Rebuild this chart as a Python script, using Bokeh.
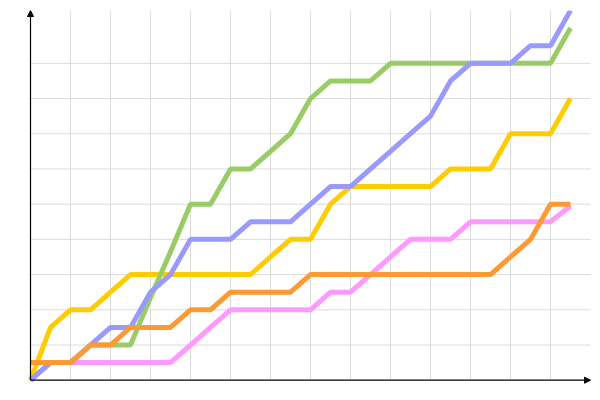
from bokeh.plotting import figure
from bokeh.models import Arrow, NormalHead, Range1d
from bokeh.embed import file_html
from bokeh.resources import INLINE

# x positions (steps)
steps = list(range(28))

# series values
yellow = [0, 3, 4, 4, 5, 6, 6, 6, 6, 6, 6, 6, 7, 8, 8, 10, 11, 11, 11, 11, 11, 12, 12, 12, 14, 14, 14, 16]
pink = [1, 1, 1, 1, 1, 1, 1, 1, 2, 3, 4, 4, 4, 4, 4, 5, 5, 6, 7, 8, 8, 8, 9, 9, 9, 9, 9, 9.9]
green = [0, 1, 1, 2, 2, 2, 4.7, 7.3, 10, 10, 12, 12, 13, 14, 16, 17, 17, 17, 18, 18, 18, 18, 18, 18, 18, 18, 18, 20]
blue = [0, 1, 1, 2, 3, 3, 5, 6, 8, 8, 8, 9, 9, 9, 10, 11, 11, 12, 13, 14, 15, 17, 18, 18, 18, 19, 19, 21]
orange = [1, 1, 1, 2, 2, 3, 3, 3, 4, 4, 5, 5, 5, 5, 6, 6, 6, 6, 6, 6, 6, 6, 6, 6, 7, 8, 10, 10]

x_max = 28
y_max = 21
x_grid_ticks = [2, 4, 6, 8, 10, 12, 14, 16, 18, 20, 22, 24, 26]
y_grid_ticks = [2, 4, 6, 8, 10, 12, 14, 16, 18]

p = figure(width=596, height=390, output_backend="svg", toolbar_location=None,
           x_axis_location=None, y_axis_location=None,
           x_range=Range1d(-0.3, 28.1), y_range=Range1d(-0.3, 21.0),
           min_border_left=24, min_border_right=4, min_border_top=10, min_border_bottom=5)
p.outline_line_color = None
p.background_fill_color = "white"
p.border_fill_color = "white"
p.xgrid.visible = False
p.ygrid.visible = False

# grid lines
grid_color = "#dcdcdc"
p.segment(x0=x_grid_ticks, y0=[0] * len(x_grid_ticks), x1=x_grid_ticks, y1=[y_max] * len(x_grid_ticks),
          line_color=grid_color, line_width=1)
p.segment(x0=[0] * len(y_grid_ticks), y0=y_grid_ticks, x1=[x_max] * len(y_grid_ticks), y1=y_grid_ticks,
          line_color=grid_color, line_width=1)

lw = 5
p.line(steps, yellow, line_color="#ffcc00", line_width=lw)
p.line(steps, pink, line_color="#ff99ff", line_width=lw)
p.line(steps, green, line_color="#99cc66", line_width=lw)
p.line(steps, blue, line_color="#9999ff", line_width=lw)
p.line(steps, orange, line_color="#ff9933", line_width=lw)

# axes with arrow heads
p.add_layout(Arrow(end=NormalHead(size=6, fill_color="black", line_color="black", line_width=1),
                   x_start=0, y_start=0, x_end=x_max, y_end=0, line_color="black", line_width=1.2))
p.add_layout(Arrow(end=NormalHead(size=6, fill_color="black", line_color="black", line_width=1),
                   x_start=0, y_start=0, x_end=0, y_end=y_max, line_color="black", line_width=1.2))

open("out.html", "w").write(file_html(p, INLINE))
